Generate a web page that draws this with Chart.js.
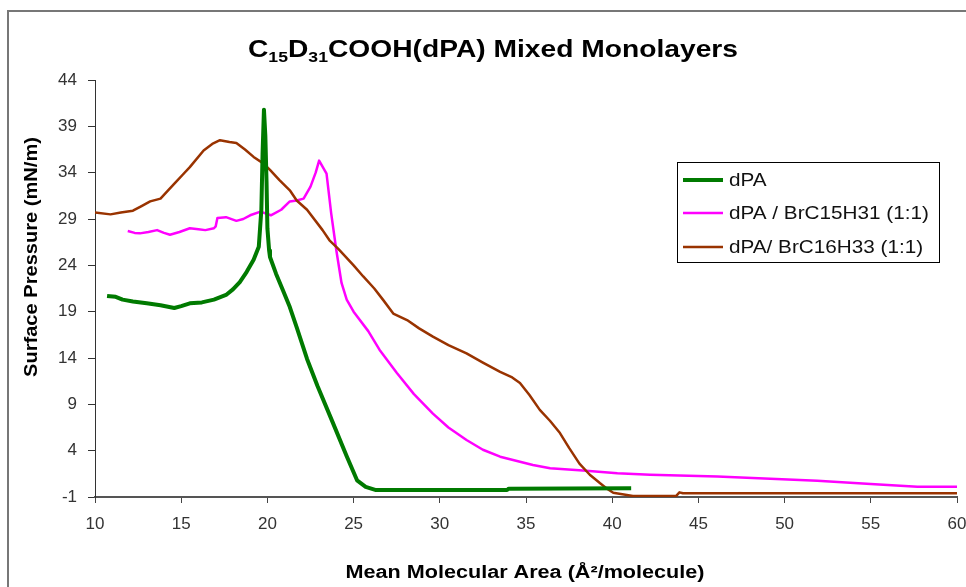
<!DOCTYPE html>
<html>
<head>
<meta charset="utf-8">
<script src="https://cdn.jsdelivr.net/npm/chart.js@4.4.1/dist/chart.umd.min.js"></script>
<style>
  html, body { margin: 0; padding: 0; background: #fff; }
  #wrap { width: 966px; height: 587px; }
</style>
</head>
<body>
<div id="wrap"><canvas id="chart" width="966" height="587"></canvas></div>
<script>
// values (area in Å²/molecule, pressure in mN/m)
const dpaX = [10.7, 11.2, 11.6, 12.2, 13.0, 13.8, 14.6, 15.0, 15.5, 16.2, 16.9, 17.6, 18.0, 18.4, 18.8, 19.2, 19.5, 19.65, 19.72, 19.8, 19.88, 19.95, 20.0, 20.1, 20.15, 20.5, 20.9, 21.3, 21.7, 22.3, 22.9, 23.8, 24.6, 25.2, 25.7, 26.3, 30.0, 33.9, 34.0, 41.1];
const dpaY = [20.7, 20.6, 20.3, 20.1, 19.9, 19.7, 19.4, 19.6, 19.9, 20.0, 20.3, 20.8, 21.4, 22.2, 23.3, 24.6, 26.0, 30.0, 36.0, 40.8, 38.0, 33.0, 28.0, 25.6, 24.9, 23.1, 21.3, 19.5, 17.3, 13.9, 11.0, 7.0, 3.4, 0.8, 0.1, -0.25, -0.25, -0.25, -0.1, -0.06];

const br15X = [11.9, 12.3, 12.6, 13.1, 13.6, 14.0, 14.35, 14.9, 15.5, 16.0, 16.4, 16.9, 17.0, 17.1, 17.6, 18.2, 18.6, 19.0, 19.6, 20.2, 20.8, 21.3, 21.7, 22.1, 22.5, 22.8, 23.0, 23.43, 23.7, 24.0, 24.3, 24.6, 25.0, 25.85, 26.5, 27.5, 28.5, 29.6, 30.5, 31.55, 32.5, 33.5, 35.4, 36.4, 38.3, 40.3, 42.2, 46.1, 51.9, 55.0, 57.7, 60.3];
const br15Y = [27.7, 27.5, 27.45, 27.6, 27.8, 27.5, 27.3, 27.6, 28.0, 27.9, 27.8, 28.0, 28.2, 29.1, 29.2, 28.8, 29.0, 29.4, 29.8, 29.4, 30.0, 30.9, 31.0, 31.2, 32.5, 34.0, 35.3, 33.9, 29.6, 25.6, 22.1, 20.3, 19.0, 16.9, 14.9, 12.4, 10.1, 8.0, 6.5, 5.15, 4.1, 3.35, 2.45, 2.1, 1.85, 1.55, 1.4, 1.2, 0.76, 0.4, 0.11, 0.11];

const br16X = [10.0, 10.9, 11.5, 12.2, 12.7, 13.2, 13.8, 14.2, 14.7, 15.1, 15.5, 16.3, 16.8, 17.25, 17.8, 18.2, 18.7, 19.2, 19.76, 20.15, 20.7, 21.3, 21.7, 22.3, 23.2, 23.6, 24.1, 25.0, 25.56, 26.2, 26.7, 27.3, 28.1, 28.8, 29.6, 30.5, 31.55, 32.5, 33.5, 34.2, 34.65, 35.2, 35.8, 36.4, 36.97, 37.5, 38.1, 38.7, 39.3, 39.7, 40.06, 41.2, 43.7, 43.9, 44.1, 60.3];
const br16Y = [29.7, 29.5, 29.7, 29.9, 30.4, 30.9, 31.2, 32.0, 33.0, 33.8, 34.6, 36.4, 37.1, 37.5, 37.3, 37.2, 36.5, 35.7, 35.0, 34.3, 33.2, 32.1, 31.0, 30.0, 27.8, 26.7, 25.8, 24.0, 22.8, 21.5, 20.3, 18.8, 18.1, 17.2, 16.3, 15.4, 14.5, 13.5, 12.5, 11.9, 11.3, 10.0, 8.4, 7.2, 5.9, 4.3, 2.6, 1.4, 0.48, -0.1, -0.54, -0.89, -0.9, -0.5, -0.6, -0.6];

const seriesNames = ["dPA", "dPA / BrC15H31 (1:1)", "dPA/ BrC16H33 (1:1)"];
const yTicks = [-1, 4, 9, 14, 19, 24, 29, 34, 39, 44];
const titleParts = [["C", 0], ["15", 1], ["D", 0], ["31", 1], ["COOH(dPA) Mixed Monolayers", 0]];
const xTitle = "Mean Molecular Area (Å²/molecule)";
const yTitle = "Surface Pressure (mN/m)";

const FONT = "'Liberation Sans', Arial, sans-serif";
const pts = (xs, ys) => xs.map((x, i) => ({ x, y: ys[i] }));

// draw text squeezed/stretched to a given width
function fitText(ctx, text, x, y, width, font) {
  ctx.font = font;
  const w = ctx.measureText(text).width;
  ctx.save();
  ctx.translate(x, y);
  ctx.scale(width / w, 1);
  ctx.textAlign = "center";
  ctx.fillText(text, 0, 0);
  ctx.restore();
}

const decor = {
  id: "decor",
  afterDraw(chart) {
    const ctx = chart.ctx;
    ctx.save();
    ctx.fillStyle = "#000";
    ctx.textBaseline = "alphabetic";

    // title with subscripts
    const big = "bold 24px " + FONT, small = "bold 15px " + FONT;
    let total = 0;
    titleParts.forEach(([t, sub]) => { ctx.font = sub ? small : big; total += ctx.measureText(t).width; });
    ctx.save();
    ctx.translate(248, 57);
    ctx.scale(490 / total, 1);
    let cx = 0;
    titleParts.forEach(([t, sub]) => {
      ctx.font = sub ? small : big;
      ctx.fillText(t, cx, sub ? 5 : 0);
      cx += ctx.measureText(t).width;
    });
    ctx.restore();

    // axis titles
    fitText(ctx, xTitle, 525, 578, 359, "bold 18px " + FONT);
    ctx.save();
    ctx.translate(37, 257);
    ctx.rotate(-Math.PI / 2);
    fitText(ctx, yTitle, 0, 0, 240, "bold 18px " + FONT);
    ctx.restore();

    // legend box
    ctx.strokeStyle = "#000";
    ctx.lineWidth = 1;
    ctx.strokeRect(677.5, 162.5, 262, 100);
    const rows = [180, 213, 247];
    chart.data.datasets.forEach((ds, i) => {
      ctx.strokeStyle = ds.borderColor;
      ctx.lineWidth = ds.borderWidth;
      ctx.beginPath();
      ctx.moveTo(683, rows[i]);
      ctx.lineTo(723, rows[i]);
      ctx.stroke();
      ctx.fillStyle = "#111";
      ctx.font = "19px " + FONT;
      ctx.textBaseline = "middle";
      ctx.textAlign = "left";
      ctx.save();
      ctx.translate(729, rows[i] + 1);
      ctx.scale(1.09, 1);
      ctx.fillText(ds.label, 0, 0);
      ctx.restore();
    });

    // outer frame
    ctx.strokeStyle = "#777";
    ctx.lineWidth = 2;
    ctx.strokeRect(8, 11, 970, 600);
    ctx.restore();
  }
};

new Chart(document.getElementById("chart"), {
  type: "scatter",
  data: {
    datasets: [
      { label: seriesNames[0], data: pts(dpaX, dpaY), borderColor: "#007a00", borderWidth: 4, order: 0 },
      { label: seriesNames[1], data: pts(br15X, br15Y), borderColor: "#ff00ff", borderWidth: 2.5, order: 2 },
      { label: seriesNames[2], data: pts(br16X, br16Y), borderColor: "#993300", borderWidth: 2.5, order: 1 }
    ].map(d => Object.assign(d, { showLine: true, pointRadius: 0, pointHoverRadius: 0, tension: 0, fill: false, borderJoinStyle: "round" }))
  },
  options: {
    responsive: false,
    animation: false,
    devicePixelRatio: 1,
    layout: { padding: { top: 80, right: 9, left: 0, bottom: 0 } },
    plugins: { legend: { display: false }, title: { display: false }, tooltip: { enabled: false } },
    scales: {
      x: {
        type: "linear",
        min: 10, max: 60,
        ticks: { stepSize: 5, color: "#333", font: { family: FONT, size: 17 }, padding: 11, maxRotation: 0 },
        grid: { drawOnChartArea: false, drawTicks: true, tickLength: 6, color: "#444" },
        border: { display: true, color: "#555", width: 2 },
        afterFit: s => { s.height = 90; s.paddingLeft = 0; s.paddingRight = 0; }
      },
      y: {
        type: "linear",
        min: -1, max: 44,
        afterBuildTicks: s => { s.ticks = yTicks.map(v => ({ value: v })); },
        ticks: { color: "#333", font: { family: FONT, size: 17 }, padding: 11 },
        grid: { drawOnChartArea: false, drawTicks: true, tickLength: 7, color: "#333" },
        border: { display: true, color: "#333", width: 1 },
        afterFit: s => { s.width = 95; s.paddingTop = 0; s.paddingBottom = 0; }
      }
    }
  },
  plugins: [decor]
});
</script>
</body>
</html>
